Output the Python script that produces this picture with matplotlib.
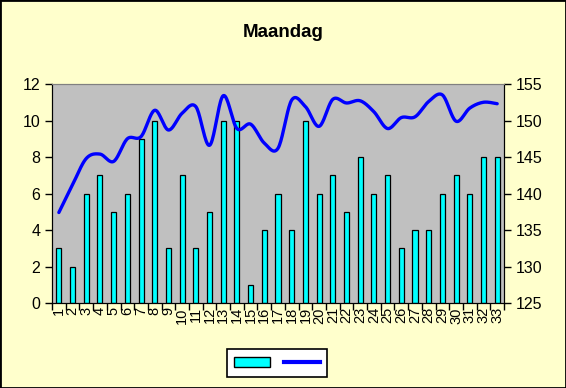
import numpy as np
import matplotlib
matplotlib.use("Agg")
import matplotlib.pyplot as plt
from matplotlib.patches import Rectangle, Patch
from matplotlib.lines import Line2D

plt.rcParams['font.family'] = ['Liberation Sans', 'DejaVu Sans']

categories = [str(i) for i in range(1, 34)]
bar_values = [3, 2, 6, 7, 5, 6, 9, 10, 3, 7, 3, 5, 10, 10, 1, 4, 6, 4, 10, 6,
              7, 5, 8, 6, 7, 3, 4, 4, 6, 7, 6, 8, 8]
line_values = [137.4, 141.2, 144.8, 145.4, 144.4, 147.5, 147.8, 151.4, 148.7, 151.0,
               151.9, 146.6, 153.4, 148.9, 149.5, 146.9, 146.2, 152.8, 151.9, 149.2,
               152.9, 152.4, 152.7, 151.2, 148.9, 150.4, 150.5, 152.6, 153.5, 149.9,
               151.7, 152.5, 152.3]
title = "Maandag"


def catmull_rom(x, y, n=20):
    x = np.asarray(x, float)
    y = np.asarray(y, float)
    px = np.concatenate([[x[0]], x, [x[-1]]])
    py = np.concatenate([[y[0]], y, [y[-1]]])
    outx, outy = [], []
    t = np.linspace(0, 1, n, endpoint=False)
    for i in range(1, len(px) - 2):
        p0x, p1x, p2x, p3x = px[i - 1:i + 3]
        p0y, p1y, p2y, p3y = py[i - 1:i + 3]
        c1x = p1x + (p2x - p0x) / 6
        c1y = p1y + (p2y - p0y) / 6
        c2x = p2x - (p3x - p1x) / 6
        c2y = p2y - (p3y - p1y) / 6
        b = lambda a0, a1, a2, a3: ((1 - t) ** 3 * a0 + 3 * (1 - t) ** 2 * t * a1
                                    + 3 * (1 - t) * t ** 2 * a2 + t ** 3 * a3)
        outx.extend(b(p1x, c1x, c2x, p2x))
        outy.extend(b(p1y, c1y, c2y, p2y))
    outx.append(x[-1])
    outy.append(y[-1])
    return np.array(outx), np.array(outy)


fig = plt.figure(figsize=(5.66, 3.88), dpi=100, facecolor='#FFFFCC')
fig.patches.append(Rectangle((0, 0), 1, 1, transform=fig.transFigure,
                             fill=False, edgecolor='black', linewidth=2.0))

ax = fig.add_axes([0.0919, 0.219, 0.7986, 0.5645])
ax.set_facecolor('#C0C0C0')
x = np.arange(1, len(categories) + 1)
ax.bar(x, bar_values, width=0.37, color='#00FFFF', edgecolor='black', linewidth=0.9, zorder=2)
ax.set_xlim(0.5, len(categories) + 0.5)
ax.set_ylim(0, 12)
ax.set_yticks(range(0, 13, 2))
ax.set_xticks(x)
ax.set_xticklabels(categories, rotation=90)
ax.set_xticks(np.arange(0.5, len(categories) + 1, 1), minor=True)
ax.tick_params(axis='x', which='major', length=0, labelsize=10.5, pad=3)
ax.tick_params(axis='x', which='minor', length=5, width=1, color='black', direction='out')
ax.tick_params(axis='y', labelsize=11.5, length=5, width=1, direction='out')

ax2 = ax.twinx()
sx, sy = catmull_rom(x, line_values)
ax2.plot(sx, sy, color='#0000FF', linewidth=2.4, solid_capstyle='round', zorder=3)
ax2.set_ylim(125, 155)
ax2.set_yticks(range(125, 156, 5))
ax2.tick_params(axis='y', labelsize=11.5, length=5, width=1, direction='out')

for a in (ax, ax2):
    a.spines['top'].set_color('#808080')
    a.spines['left'].set_color('black')
    a.spines['right'].set_color('black')
    a.spines['bottom'].set_color('black')

fig.text(0.5, 0.915, title, ha='center', va='center', fontsize=13.5, fontweight='bold')

handles = [Patch(facecolor='#00FFFF', edgecolor='black', linewidth=1),
           Line2D([], [], color='#0000FF', linewidth=3)]
leg = fig.legend(handles, ['', ''], loc='center', bbox_to_anchor=(0.490, 0.0644), ncol=2,
                 frameon=True, fancybox=False, edgecolor='black', framealpha=1,
                 facecolor='white', fontsize=10, handlelength=2.6, handleheight=0.75,
                 handletextpad=0.0, columnspacing=1.0, borderpad=0.5)
leg.get_frame().set_linewidth(1.2)

fig.savefig('out.png', dpi=100, facecolor=fig.get_facecolor())
